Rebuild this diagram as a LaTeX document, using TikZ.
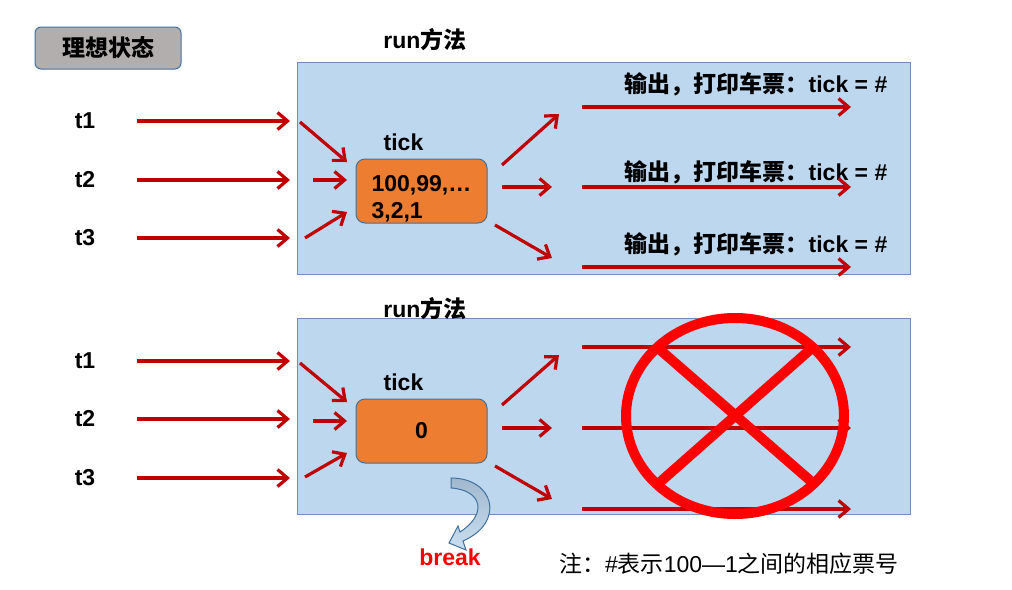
\documentclass[tikz,border=0pt]{standalone}
\usepackage{fontspec}
\setmainfont{Liberation Sans}
\newfontfamily\cjk{Noto Sans CJK SC}
\usetikzlibrary{arrows.meta,positioning}
\definecolor{panelblue}{HTML}{BDD7EE}
\definecolor{panelline}{HTML}{6F8FB8}
\definecolor{boxline}{HTML}{41719C}
\definecolor{tickorange}{HTML}{ED7D31}
\definecolor{statgray}{HTML}{B3AEAE}
\definecolor{arrred}{HTML}{C00000}
\definecolor{crossred}{HTML}{FF0000}

\begin{document}
\begin{tikzpicture}[x=1pt, y=-1pt, font=\fontsize{23}{27}\selectfont\bfseries]
\tikzset{panel/.style={draw=panelline, fill=panelblue, line width=1pt, minimum width=613pt, inner sep=0pt}}
\tikzset{tickbox/.style={draw=boxline, fill=tickorange, rounded corners=9pt, line width=1pt, minimum width=131pt, minimum height=64pt, inner sep=0pt}}
\tikzset{arr/.style={draw=arrred, line width=3.2pt, -{Straight Barb[length=10pt,width=17pt]}}}
\tikzset{cross/.style={draw=crossred, line width=10pt}}
\useasboundingbox (0,0) rectangle (1012,589);
\node[draw=boxline, fill=statgray, rounded corners=6pt, minimum width=146pt, minimum height=42pt, line width=1pt] (state) at (108,48) {\cjk 理想状态};
% upper panel
\node[panel, minimum height=212pt] (p1) at (603.5,168) {};
\node (run1) at (425,40) {run{\cjk 方法}};
\node (t11) at (85,121) {t1};
\node (t12) at (85,180) {t2};
\node (t13) at (85,238) {t3};
\node[tickbox] (tk1) at (421.5,191) {};
\node[align=left] (tv1) at ([yshift=-8pt]tk1.center) {100,99,…\\3,2,1};
\node[above=4pt of tk1.north, xshift=-18pt] (tl1) {tick};
\node (o11) at (756,84) {{\cjk 输出，打印车票：}tick = \#};
\node (o12) at (756,172) {{\cjk 输出，打印车票：}tick = \#};
\node (o13) at (756,244) {{\cjk 输出，打印车票：}tick = \#};
\coordinate (a11) at (137,121); \coordinate (b11) at (290,121);
\coordinate (a12) at (137,180); \coordinate (b12) at (290,180);
\coordinate (a13) at (137,238); \coordinate (b13) at (290,238);
\coordinate (c11) at (300,122); \coordinate (d11) at (347,162);
\coordinate (c12) at (313,180); \coordinate (d12) at (347,180);
\coordinate (c13) at (305,238); \coordinate (d13) at (347,212);
\coordinate (e11) at (502,165); \coordinate (f11) at (559,114);
\coordinate (e12) at (502,187); \coordinate (f12) at (552,187);
\coordinate (e13) at (495,225); \coordinate (f13) at (552,258);
\coordinate (g11) at (582,107); \coordinate (h11) at (851,107);
\coordinate (g12) at (582,187); \coordinate (h12) at (851,187);
\coordinate (g13) at (582,267); \coordinate (h13) at (851,267);
\draw[arr] (a11) -- (b11); \draw[arr] (a12) -- (b12); \draw[arr] (a13) -- (b13);
\draw[arr] (c11) -- (d11); \draw[arr] (c12) -- (d12); \draw[arr] (c13) -- (d13);
\draw[arr] (e11) -- (f11); \draw[arr] (e12) -- (f12); \draw[arr] (e13) -- (f13);
\draw[arr] (g11) -- (h11); \draw[arr] (g12) -- (h12); \draw[arr] (g13) -- (h13);
% lower panel
\node[panel, minimum height=196pt] (p2) at (603.5,416) {};
\node (run2) at (425,309) {run{\cjk 方法}};
\node (t21) at (85,361) {t1};
\node (t22) at (85,419) {t2};
\node (t23) at (85,478) {t3};
\node[tickbox] (tk2) at (421.5,431) {0};
\node[above=4pt of tk2.north, xshift=-18pt] (tl2) {tick};
\coordinate (a21) at (137,361); \coordinate (b21) at (290,361);
\coordinate (a22) at (137,419); \coordinate (b22) at (290,419);
\coordinate (a23) at (137,478); \coordinate (b23) at (290,478);
\coordinate (c21) at (300,363); \coordinate (d21) at (347,402);
\coordinate (c22) at (313,421); \coordinate (d22) at (347,421);
\coordinate (c23) at (305,477); \coordinate (d23) at (347,453);
\coordinate (e21) at (502,405); \coordinate (f21) at (559,355);
\coordinate (e22) at (502,428); \coordinate (f22) at (552,428);
\coordinate (e23) at (495,466); \coordinate (f23) at (552,499);
\coordinate (g21) at (582,347); \coordinate (h21) at (851,347);
\coordinate (g22) at (582,428); \coordinate (h22) at (851,428);
\coordinate (g23) at (582,509); \coordinate (h23) at (851,509);
\draw[arr] (a21) -- (b21); \draw[arr] (a22) -- (b22); \draw[arr] (a23) -- (b23);
\draw[arr] (c21) -- (d21); \draw[arr] (c22) -- (d22); \draw[arr] (c23) -- (d23);
\draw[arr] (e21) -- (f21); \draw[arr] (e22) -- (f22); \draw[arr] (e23) -- (f23);
\draw[arr] (g21) -- (h21); \draw[arr] (g22) -- (h22); \draw[arr] (g23) -- (h23);
% crossed circle
\coordinate (xc) at (735,416);
\coordinate (xa) at (658,348); \coordinate (xb) at (813,483);
\coordinate (xd) at (812,348); \coordinate (xe) at (659,483);
\draw[cross] (xc) ellipse [x radius=109pt, y radius=98pt];
\draw[cross] (xa) -- (xb);
\draw[cross] (xd) -- (xe);
% break arrow
\path[top color=boxline!50, bottom color=panelblue!80, draw=boxline, line width=1pt]
  (451,478) .. controls (494,478) and (506,522) .. (463,541) -- (466,550) -- (449,543)
  -- (458,526) -- (460,532) .. controls (488,514) and (482,490) .. (451,488) -- cycle;
\node[text=crossred] (brk) at (450,557) {break};
\node[font=\normalfont\fontsize{23}{27}\selectfont] (note) at (729,564) {{\cjk 注：}\#{\cjk 表示}100—1{\cjk 之间的相应票号}};
\end{tikzpicture}
\end{document}
